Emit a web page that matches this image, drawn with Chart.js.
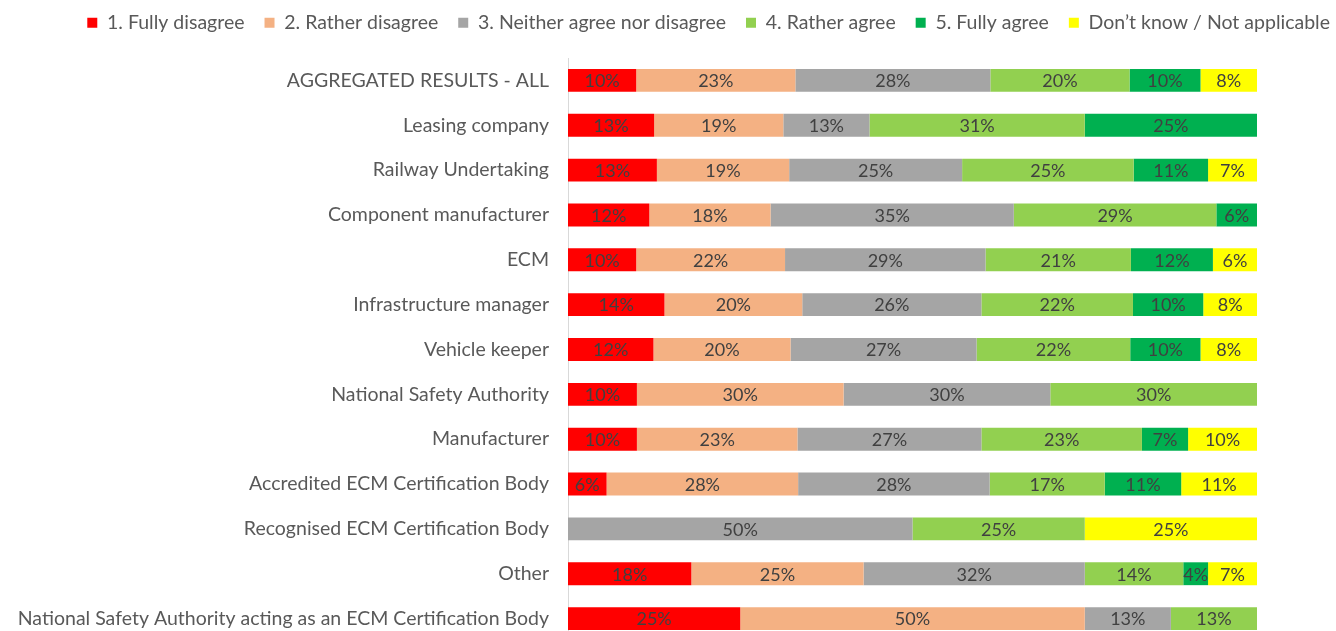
<!DOCTYPE html>
<html>
<head>
<meta charset="utf-8">
<script src="https://cdn.jsdelivr.net/npm/chart.js@4.4.1/dist/chart.umd.min.js"></script>
<style>
  html, body { margin: 0; padding: 0; background: #fff; overflow: hidden; }
  #wrap { position: relative; width: 1336px; height: 641px; }
</style>
</head>
<body>
<div id="wrap"><canvas id="chart"></canvas></div>
<script>
// Survey answers per stakeholder group, share of respondents in %
const categories = [
  'AGGREGATED RESULTS - ALL',
  'Leasing company',
  'Railway Undertaking',
  'Component manufacturer',
  'ECM',
  'Infrastructure manager',
  'Vehicle keeper',
  'National Safety Authority',
  'Manufacturer',
  'Accredited ECM Certification Body',
  'Recognised ECM Certification Body',
  'Other',
  'National Safety Authority acting as an ECM Certification Body',
];
const seriesNames = [
  '1. Fully disagree',
  '2. Rather disagree',
  '3. Neither agree nor disagree',
  '4. Rather agree',
  '5. Fully agree',
  'Don\u2019t know / Not applicable',
];
const fullyDisagree   = [9.9, 12.5, 12.9, 11.8, 9.9, 14.0, 12.4, 10, 10, 5.6, 0, 17.9, 25];
const ratherDisagree  = [23.1, 18.75, 19.2, 17.6, 21.6, 20.0, 19.9, 30, 23.3, 27.8, 0, 25.0, 50];
const neither         = [28.3, 12.5, 25.1, 35.3, 29.1, 26.0, 27.0, 30, 26.7, 27.8, 50, 32.1, 12.5];
const ratherAgree     = [20.2, 31.25, 24.9, 29.4, 21.1, 22.0, 22.3, 30, 23.3, 16.7, 25, 14.3, 12.5];
const fullyAgree      = [10.3, 25, 10.8, 5.9, 11.9, 10.2, 10.2, 0, 6.7, 11.1, 0, 3.6, 0];
const dontKnow        = [8.2, 0, 7.1, 0, 6.4, 7.8, 8.2, 0, 10, 11.0, 25, 7.1, 0];
const colours = ['#FF0000', '#F4B183', '#A5A5A5', '#92D050', '#00B050', '#FFFF00'];

const FONT = 'Lato, "Open Sans", sans-serif';
const TEXT = '#595959';

// Percent labels centred inside every segment
const segmentLabels = {
  id: 'segmentLabels',
  afterDatasetsDraw(chart) {
    const ctx = chart.ctx;
    ctx.save();
    ctx.font = '18px ' + FONT;
    ctx.fillStyle = '#404040';
    ctx.textAlign = 'center';
    ctx.textBaseline = 'middle';
    chart.data.datasets.forEach((ds, i) => {
      chart.getDatasetMeta(i).data.forEach((bar, j) => {
        const v = ds.data[j];
        if (!v) return;
        ctx.fillText(Math.round(v) + '%', (bar.x + bar.base) / 2, bar.y + 1);
      });
    });
    ctx.restore();
  },
};

// Fixed legend band height so the plot starts where the original does
const legendBand = {
  id: 'legendBand',
  beforeInit(chart) {
    const fit = chart.legend.fit;
    chart.legend.fit = function () {
      fit.call(this);
      this.height = 65;
    };
  },
};

const data = [fullyDisagree, ratherDisagree, neither, ratherAgree, fullyAgree, dontKnow];

new Chart(document.getElementById('chart'), {
  type: 'bar',
  data: {
    labels: categories,
    datasets: seriesNames.map((name, i) => ({
      label: name,
      data: data[i],
      backgroundColor: colours[i],
      borderWidth: 0,
      barPercentage: 1,
      categoryPercentage: 0.51,
    })),
  },
  options: {
    indexAxis: 'y',
    responsive: true,
    maintainAspectRatio: false,
    animation: false,
    layout: { padding: { top: -7, left: 0, right: -14, bottom: 0 } },
    plugins: {
      tooltip: { enabled: false },
      legend: {
        position: 'top',
        align: 'end',
        labels: {
          boxWidth: 10,
          boxHeight: 10,
          padding: 20,
          color: TEXT,
          font: { family: FONT, size: 19.5 },
        },
      },
    },
    scales: {
      x: { stacked: true, min: 0, max: 100, display: false },
      y: {
        stacked: true,
        grid: { display: false },
        border: { color: '#D9D9D9', width: 1 },
        ticks: { color: TEXT, padding: 11, autoSkip: false, font: { family: FONT, size: 19.5 } },
        afterFit: (s) => {
          s.width = 568;
          // no extra room for half label heights, the plot runs to the bottom edge
          s.paddingTop = 0;
          s.paddingBottom = 0;
        },
      },
      right: {
        type: 'linear',
        position: 'right',
        grid: { display: false },
        border: { display: false },
        ticks: { display: false },
        afterFit: (s) => { s.width = 93; },
      },
    },
  },
  plugins: [segmentLabels, legendBand],
});
</script>
</body>
</html>
